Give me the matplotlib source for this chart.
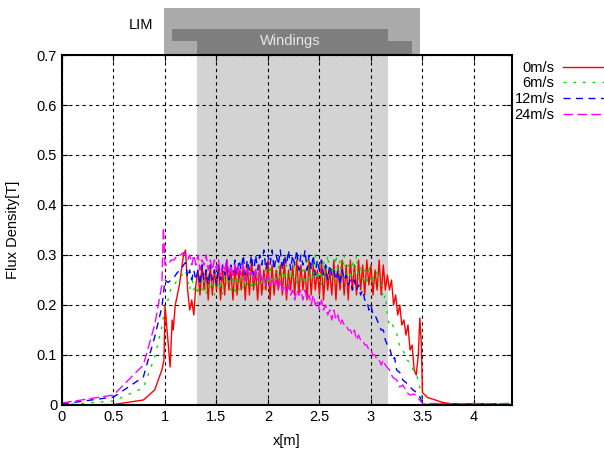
import matplotlib
matplotlib.use('Agg')
import matplotlib.pyplot as plt
import matplotlib.transforms as mtransforms
from matplotlib.patches import Rectangle
import numpy as np

plt.rcParams['font.family'] = ['Liberation Sans', 'DejaVu Sans']

labels = ['0m/s', '6m/s', '12m/s', '24m/s']
colors = ['#ff0000', '#00e000', '#0000ff', '#ff00ff']

# dense middle section, sampled every 0.02 m from 1.30 to 3.16
x_mid = np.linspace(1.30, 3.16, 94)

# --- 0 m/s ---
red_head_x = [0, 0.5, 0.79, 0.9, 0.97, 0.99, 1.0, 1.02, 1.04, 1.05, 1.07, 1.08, 1.10, 1.12,
              1.14, 1.16, 1.18, 1.20, 1.21, 1.22, 1.24, 1.26, 1.28]
red_head_y = [0.0, 0.001, 0.01, 0.03, 0.07, 0.09, 0.2, 0.15, 0.10, 0.076, 0.17, 0.15, 0.20, 0.22,
              0.24, 0.27, 0.30, 0.31, 0.27, 0.23, 0.19, 0.21, 0.18]
red_mid = [0.24, 0.27, 0.22, 0.28, 0.23, 0.27, 0.21, 0.28, 0.22, 0.27,
           0.23, 0.28, 0.21, 0.27, 0.22, 0.29, 0.23, 0.27, 0.21, 0.28,
           0.22, 0.27, 0.23, 0.28, 0.21, 0.28, 0.22, 0.29, 0.23, 0.27,
           0.21, 0.28, 0.22, 0.27, 0.23, 0.29, 0.21, 0.28, 0.22, 0.27,
           0.23, 0.28, 0.22, 0.29, 0.21, 0.27, 0.23, 0.28, 0.22, 0.29,
           0.22, 0.28, 0.23, 0.27, 0.21, 0.29, 0.22, 0.28, 0.23, 0.27,
           0.22, 0.29, 0.21, 0.28, 0.23, 0.27, 0.22, 0.29, 0.21, 0.28,
           0.23, 0.29, 0.22, 0.28, 0.21, 0.29, 0.23, 0.28, 0.22, 0.29,
           0.23, 0.28, 0.22, 0.29, 0.24, 0.28, 0.22, 0.27, 0.23, 0.29,
           0.22, 0.28, 0.23, 0.26]
red_tail_x = [3.18, 3.20, 3.22, 3.24, 3.26, 3.28, 3.30, 3.32, 3.34, 3.36, 3.38, 3.40, 3.42,
              3.44, 3.46, 3.475, 3.49, 3.50, 3.55, 3.7, 3.8, 4.37]
red_tail_y = [0.23, 0.25, 0.20, 0.22, 0.18, 0.20, 0.16, 0.17, 0.14, 0.16, 0.11, 0.12, 0.07,
              0.06, 0.10, 0.174, 0.12, 0.025, 0.015, 0.005, 0.002, 0.001]

# --- 6 m/s ---
green_head_x = [0, 0.5, 0.79, 0.9, 0.97, 1.0, 1.03, 1.06, 1.09, 1.12, 1.15, 1.18, 1.20, 1.22,
                1.24, 1.26, 1.28]
green_head_y = [0.0, 0.008, 0.034, 0.096, 0.156, 0.20, 0.21, 0.235, 0.24, 0.25, 0.255, 0.265,
                0.27, 0.25, 0.23, 0.26, 0.23]
green_mid = [0.24, 0.22, 0.26, 0.23, 0.25, 0.22, 0.26, 0.23, 0.25, 0.22,
             0.26, 0.23, 0.25, 0.22, 0.26, 0.24, 0.25, 0.23, 0.26, 0.22,
             0.25, 0.23, 0.27, 0.23, 0.26, 0.24, 0.27, 0.23, 0.26, 0.24,
             0.27, 0.24, 0.26, 0.23, 0.27, 0.24, 0.28, 0.24, 0.26, 0.25,
             0.28, 0.24, 0.27, 0.25, 0.28, 0.24, 0.27, 0.25, 0.29, 0.24,
             0.28, 0.25, 0.27, 0.24, 0.29, 0.25, 0.28, 0.25, 0.30, 0.25,
             0.28, 0.24, 0.29, 0.25, 0.30, 0.26, 0.28, 0.25, 0.30, 0.26,
             0.29, 0.25, 0.30, 0.26, 0.28, 0.25, 0.29, 0.26, 0.30, 0.25,
             0.28, 0.25, 0.27, 0.24, 0.28, 0.25, 0.26, 0.24, 0.27, 0.24,
             0.24, 0.21, 0.22, 0.18]
green_tail_x = [3.18, 3.21, 3.25, 3.28, 3.31, 3.35, 3.38, 3.41, 3.44, 3.46, 3.48, 3.50, 3.52,
                3.7, 4.0, 4.37]
green_tail_y = [0.156, 0.16, 0.144, 0.116, 0.11, 0.09, 0.085, 0.07, 0.06, 0.05, 0.03, 0.005,
                0.001, 0.002, 0.002, 0.002]

# --- 12 m/s ---
blue_head_x = [0, 0.5, 0.79, 0.9, 0.97, 1.0, 1.03, 1.06, 1.09, 1.12, 1.15, 1.18, 1.20, 1.22,
               1.24, 1.26, 1.28]
blue_head_y = [0.002, 0.016, 0.056, 0.136, 0.196, 0.25, 0.245, 0.25, 0.256, 0.265, 0.27, 0.28,
               0.285, 0.255, 0.27, 0.25, 0.27]
blue_mid = [0.25, 0.27, 0.24, 0.28, 0.25, 0.27, 0.24, 0.28, 0.25, 0.27,
            0.24, 0.28, 0.25, 0.28, 0.26, 0.29, 0.25, 0.28, 0.26, 0.29,
            0.26, 0.29, 0.27, 0.30, 0.26, 0.29, 0.27, 0.30, 0.26, 0.30,
            0.27, 0.30, 0.28, 0.31, 0.27, 0.30, 0.28, 0.31, 0.27, 0.30,
            0.28, 0.31, 0.27, 0.30, 0.28, 0.31, 0.27, 0.30, 0.28, 0.31,
            0.27, 0.30, 0.28, 0.31, 0.27, 0.30, 0.27, 0.30, 0.26, 0.29,
            0.27, 0.29, 0.26, 0.28, 0.25, 0.28, 0.26, 0.27, 0.25, 0.27,
            0.24, 0.27, 0.25, 0.26, 0.24, 0.25, 0.23, 0.25, 0.23, 0.24,
            0.22, 0.23, 0.21, 0.21, 0.19, 0.20, 0.18, 0.18, 0.17, 0.16,
            0.15, 0.15, 0.13, 0.12]
blue_tail_x = [3.18, 3.21, 3.23, 3.25, 3.28, 3.31, 3.34, 3.38, 3.41, 3.45, 3.48, 3.50, 3.52,
               3.7, 4.0, 4.37]
blue_tail_y = [0.116, 0.09, 0.095, 0.07, 0.065, 0.05, 0.045, 0.036, 0.03, 0.024, 0.014, 0.004,
               0.001, 0.002, 0.002, 0.003]

# --- 24 m/s ---
mag_head_x = [0, 0.5, 0.79, 0.9, 0.97, 0.985, 1.0, 1.03, 1.06, 1.09, 1.12, 1.15, 1.18, 1.20,
              1.22, 1.24, 1.26, 1.28]
mag_head_y = [0.004, 0.02, 0.08, 0.16, 0.24, 0.355, 0.28, 0.28, 0.29, 0.29, 0.30, 0.30, 0.305,
              0.30, 0.29, 0.30, 0.28, 0.30]
mag_mid = [0.28, 0.30, 0.27, 0.29, 0.28, 0.30, 0.27, 0.29, 0.27, 0.29,
           0.27, 0.29, 0.26, 0.28, 0.27, 0.29, 0.26, 0.28, 0.26, 0.28,
           0.26, 0.28, 0.26, 0.28, 0.25, 0.27, 0.26, 0.27, 0.25, 0.27,
           0.25, 0.27, 0.25, 0.26, 0.24, 0.26, 0.24, 0.25, 0.24, 0.25,
           0.23, 0.25, 0.23, 0.24, 0.22, 0.24, 0.22, 0.23, 0.21, 0.23,
           0.22, 0.23, 0.21, 0.23, 0.21, 0.22, 0.20, 0.22, 0.20, 0.21,
           0.19, 0.21, 0.19, 0.20, 0.18, 0.19, 0.17, 0.19, 0.17, 0.18,
           0.16, 0.17, 0.16, 0.16, 0.15, 0.15, 0.14, 0.15, 0.13, 0.14,
           0.13, 0.13, 0.12, 0.12, 0.11, 0.11, 0.10, 0.10, 0.09, 0.09,
           0.08, 0.09, 0.08, 0.075]
mag_tail_x = [3.18, 3.21, 3.25, 3.28, 3.31, 3.35, 3.38, 3.42, 3.45, 3.49, 3.51, 3.6, 3.8, 4.0,
              4.2, 4.37]
mag_tail_y = [0.07, 0.056, 0.05, 0.036, 0.04, 0.025, 0.02, 0.022, 0.016, 0.006, 0.002, 0.003,
              0.002, 0.003, 0.002, 0.003]

series = [
    (red_head_x, red_head_y, red_mid, red_tail_x, red_tail_y, '-'),
    (green_head_x, green_head_y, green_mid, green_tail_x, green_tail_y, (0, (2, 5))),
    (blue_head_x, blue_head_y, blue_mid, blue_tail_x, blue_tail_y, (0, (5, 4))),
    (mag_head_x, mag_head_y, mag_mid, mag_tail_x, mag_tail_y, (0, (7, 3))),
]

fig = plt.figure(figsize=(6.04, 4.53), dpi=100)
ax = fig.add_axes([62 / 604, 48 / 453, 450 / 604, 350 / 453])

# winding region inside the plot
ax.axvspan(1.31, 3.165, color='#d3d3d3', zorder=0, lw=0)

for (hx, hy, mid, tx, ty, ls), lab, c in zip(series, labels, colors):
    x = np.concatenate([hx, x_mid, tx])
    y = np.concatenate([hy, mid, ty])
    ax.plot(x, y, color=c, ls=ls, lw=1.0, label=lab)

ax.set_xlim(0, 4.37)
ax.set_ylim(0, 0.7)
ax.set_xticks([0, 0.5, 1, 1.5, 2, 2.5, 3, 3.5, 4])
ax.set_xticklabels(['0', '0.5', '1', '1.5', '2', '2.5', '3', '3.5', '4'])
ax.set_yticks([0, 0.1, 0.2, 0.3, 0.4, 0.5, 0.6, 0.7])
ax.set_yticklabels(['0', '0.1', '0.2', '0.3', '0.4', '0.5', '0.6', '0.7'])
ax.tick_params(direction='in', top=True, right=True, length=4, labelsize=10.5)
ax.grid(True, color='black', ls=(0, (3, 3)), lw=0.8)
for s in ax.spines.values():
    s.set_linewidth(1.5)

ax.set_xlabel('x[m]', fontsize=10.5, labelpad=7)
ax.set_ylabel('Flux Density[T]', fontsize=10.5, labelpad=12)

# LIM / windings sketch above the axes
trans = mtransforms.blended_transform_factory(ax.transData, ax.transAxes)
ax.add_patch(Rectangle((0.99, 1.0), 2.486, 0.134, transform=trans, color='#ababab',
                       clip_on=False, lw=0))
ax.add_patch(Rectangle((1.068, 1.04), 2.097, 0.034, transform=trans, color='#7f7f7f',
                       clip_on=False, lw=0))
ax.add_patch(Rectangle((1.31, 1.0), 2.09, 0.041, transform=trans, color='#7f7f7f',
                       clip_on=False, lw=0))
ax.text(2.22, 1.04, 'Windings', transform=trans, color='#e6e6e6', fontsize=10.5,
        ha='center', va='center')
ax.text(0.77, 1.086, 'LIM', transform=trans, color='black', fontsize=10.5,
        ha='center', va='center')

fig.legend(loc='upper right', bbox_to_anchor=(1.0, 0.866), frameon=False, markerfirst=False,
           fontsize=10.5, handlelength=2.8, handletextpad=0.6, labelspacing=0.12,
           borderpad=0, borderaxespad=0)

fig.savefig('out.png', dpi=100)
